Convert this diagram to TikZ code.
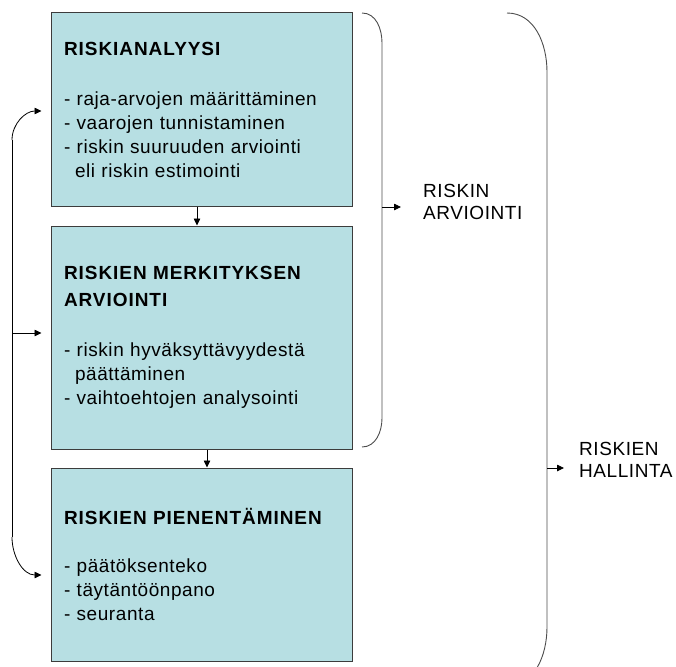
\documentclass[tikz,border=0pt]{standalone}
\usepackage{fontspec}
\setmainfont{Liberation Sans}[LetterSpace=3, BoldFeatures={LetterSpace=5}]
\usetikzlibrary{arrows.meta}
\definecolor{riskfill}{RGB}{183,223,227}
\definecolor{riskline}{RGB}{60,60,60}

\begin{document}
\begin{tikzpicture}[x=1pt, y=1pt,
    box/.style={draw=riskline, fill=riskfill, line width=1pt, minimum width=301pt, text width=275pt, align=left, inner xsep=13pt, font=\fontsize{19}{24}\selectfont},
    arr/.style={-{Triangle[length=7pt,width=6.5pt]}, line width=0.8pt},
    curly/.style={line width=0.9pt, draw=black!70},
    label/.style={anchor=west, align=left, inner sep=0pt, font=\fontsize{19}{22}\selectfont}
  ]
  \useasboundingbox (0,0) rectangle (676,-666);
  \clip (0,0) rectangle (676,-666);

  % Box 1: Riskianalyysi
  \node[box, minimum height=193pt] (ana) at (201.5,-109.5) {
    \textbf{RISKIANALYYSI}\\[26pt]
    - raja-arvojen määrittäminen\\
    - vaarojen tunnistaminen\\
    - riskin suuruuden arviointi\\
    \hspace*{11pt}eli riskin estimointi
  };

  % Box 2: Merkityksen arviointi
  \node[box, minimum height=223pt] (merk) at (201.5,-337.5) {
    \textbf{RISKIEN MERKITYKSEN}\\[3pt]
    \textbf{ARVIOINTI}\\[26pt]
    - riskin hyväksyttävyydestä\\
    \hspace*{11pt}päättäminen\\
    - vaihtoehtojen analysointi
  };

  % Box 3: Pienentäminen
  \node[box, minimum height=193pt] (pien) at (201.5,-564.5) {
    \textbf{RISKIEN PIENENTÄMINEN}\\[24pt]
    - päätöksenteko\\
    - täytäntöönpano\\
    - seuranta
  };

  % Flow between the boxes
  \draw[arr] ([xshift=-4.5pt]ana.south) -- ([xshift=-4.5pt]merk.north);
  \draw[arr] ([xshift=5.5pt]merk.south) -- ([xshift=5.5pt]pien.north);

  % Feedback loop on the left
  \coordinate (spinetop) at (12,-140);
  \coordinate (spinemid) at (12,-333);
  \coordinate (spinebot) at (12,-537);
  \coordinate (in1) at ([xshift=-9pt,yshift=-1.5pt]ana.west);
  \coordinate (in2) at (in1 |- spinemid);
  \coordinate (in3) at ([xshift=-9pt,yshift=-10.5pt]pien.west);
  \draw[line width=0.8pt] (spinetop) -- (spinebot);
  \draw[arr] (spinetop) to[out=90,in=180] (in1);
  \draw[arr] (spinemid) -- (in2);
  \draw[arr] (spinebot) to[out=-90,in=180] (in3);

  % Brackets on the right
  \draw[curly] (362,-13) to[out=0,in=90] (382,-43) -- (382,-418) to[out=-90,in=0] (362,-447);
  \draw[curly] (507,-13) to[out=0,in=90] (547,-72) -- (547,-627) to[out=-90,in=0] (507,-686);

  \coordinate (b1mid) at (382,-207);
  \coordinate (b1tip) at (401,-207);
  \coordinate (b2mid) at (547,-468);
  \coordinate (b2tip) at (564,-468);
  \draw[arr] (b1mid) -- (b1tip);
  \draw[arr] (b2mid) -- (b2tip);

  \node[label] (arviointi) at (423,-202) {RISKIN\\ARVIOINTI};
  \node[label] (hallinta) at (579,-460) {RISKIEN\\HALLINTA};
\end{tikzpicture}
\end{document}
